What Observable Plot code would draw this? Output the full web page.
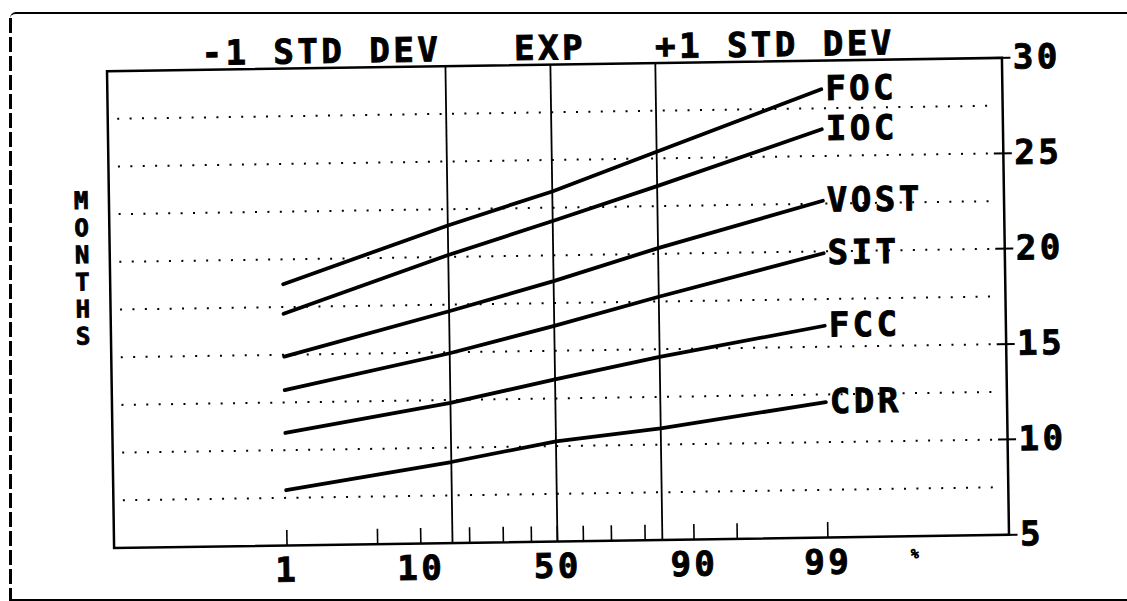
<!DOCTYPE html>
<html>
<head>
<meta charset="utf-8">
<script src="https://cdn.jsdelivr.net/npm/d3@7"></script>
<script src="https://cdn.jsdelivr.net/npm/@observablehq/plot@0.6"></script>
<style>
  html, body { margin: 0; padding: 0; background: #fff; }
  body { width: 1127px; height: 601px; position: relative; overflow: hidden; }
  #border {
    position: absolute; left: 10px; top: 12px; width: 1130px; height: 585px;
    border-top: 2px solid #000; border-bottom: 2px solid #000;
    border-top-left-radius: 6px; pointer-events: none;
  }
  #leftdash {
    position: absolute; left: 9px; top: 18px; width: 3px; height: 583px;
    background: repeating-linear-gradient(to bottom, #000 0 15px, transparent 15px 19px);
    pointer-events: none;
  }
  #chart { position: absolute; left: 0; top: 0; }
  #chart svg { transform: rotate(-0.85deg); transform-origin: 557.5px 302.5px; }
  #chart svg text { letter-spacing: 3.5px; stroke: #000; stroke-width: 0.9px; }
</style>
</head>
<body>
<div id="chart"></div>
<div id="border"></div>
<div id="leftdash"></div>
<script>
// ---- data (percentiles on a probability axis, months on y) ----
const percentiles = [1, 15.87, 50, 84.13, 99];
const seriesNames = ["FOC", "IOC", "VOST", "SIT", "FCC", "CDR"];
const FOC  = [18.7, 21.65, 23.35, 25.35, 28.5];
const IOC  = [17.15, 20.1, 21.8, 23.55, 26.4];
const VOST = [14.9, 17.15, 18.65, 20.3, 22.65];
const SIT  = [13.15, 14.95, 16.3, 17.75, 19.9];
const FCC  = [10.9, 12.35, 13.5, 14.6, 16.1];
const CDR  = [7.9, 9.25, 10.25, 10.85, 12.1];
const seriesValues = [FOC, IOC, VOST, SIT, FCC, CDR];

const xLabelTicks = [1, 10, 50, 90, 99];
const xMinorTicks = [1, 5, 10, 20, 30, 40, 50, 60, 70, 80, 90, 95, 99];
const yTicks = [5, 10, 15, 20, 25, 30];
const yGrid = [7.5, 10, 12.5, 15, 17.5, 20, 22.5, 25, 27.5];
const refLines = [15.87, 50, 84.13];
const refLabels = ["-1 STD DEV", "EXP", "+1 STD DEV"];

// ---- probability-axis transform ----
function probit(p) {
  const a = [-39.69683028665376, 220.9460984245205, -275.9285104469687, 138.3577518672690, -30.66479806614716, 2.506628277459239];
  const b = [-54.47609879822406, 161.5858368580409, -155.6989798598866, 66.80131188771972, -13.28068155288572];
  const c = [-0.007784894002430293, -0.3223964580411365, -2.400758277161838, -2.549732539343734, 4.374664141464968, 2.938163982698783];
  const d = [0.007784695709041462, 0.3224671290700398, 2.445134137142996, 3.754408661907416];
  const pl = 0.02425, ph = 1 - pl;
  let q, r;
  if (p < pl) {
    q = Math.sqrt(-2 * Math.log(p));
    return (((((c[0]*q+c[1])*q+c[2])*q+c[3])*q+c[4])*q+c[5]) / ((((d[0]*q+d[1])*q+d[2])*q+d[3])*q+1);
  } else if (p <= ph) {
    q = p - 0.5; r = q*q;
    return (((((a[0]*r+a[1])*r+a[2])*r+a[3])*r+a[4])*r+a[5])*q / (((((b[0]*r+b[1])*r+b[2])*r+b[3])*r+b[4])*r+1);
  } else {
    q = Math.sqrt(-2 * Math.log(1 - p));
    return -(((((c[0]*q+c[1])*q+c[2])*q+c[3])*q+c[4])*q+c[5]) / ((((d[0]*q+d[1])*q+d[2])*q+d[3])*q+1);
  }
}
const fx = p => { const z = probit(p / 100); return z + 0.025 * z * z * z; };

const rows = seriesNames.flatMap((name, i) =>
  percentiles.map((p, j) => ({name, p, v: seriesValues[i][j]})));

const labelFor = new Map(xLabelTicks.map(p => [fx(p), String(p)]));

const FS = 34;
const chart = Plot.plot({
  width: 1127,
  height: 601,
  marginLeft: 110,
  marginRight: 122,
  marginTop: 64,
  marginBottom: 60,
  x: {domain: [-4.33, 4.41]},
  y: {domain: [5, 30]},
  style: {fontFamily: "'DejaVu Sans Mono', monospace", fontWeight: "bold", fontSize: FS + "px", color: "#000", background: "transparent"},
  marks: [
    Plot.gridY(yGrid, {stroke: "#000", strokeOpacity: 1, strokeWidth: 2, strokeDasharray: "2,10.4", insetLeft: 10, insetRight: 8}),
    Plot.ruleX(refLines, {x: fx, stroke: "#000", strokeWidth: 1.8}),
    Plot.frame({stroke: "#000", strokeWidth: 2.5}),
    Plot.axisX(xMinorTicks.map(fx), {anchor: "bottom", tickSize: -15, tickFormat: () => "", label: null, strokeWidth: 1.6}),
    Plot.axisX(xLabelTicks.map(fx), {anchor: "bottom", tickSize: 0, tickPadding: 12, tickFormat: v => labelFor.get(v), label: null, fontSize: FS, fontWeight: "bold"}),
    Plot.axisY(yTicks, {anchor: "right", tickSize: 18, dx: -10, tickPadding: 3, label: null, fontSize: FS, fontWeight: "bold", strokeWidth: 2}),
    Plot.line(rows, {x: d => fx(d.p), y: "v", z: "name", stroke: "#000", strokeWidth: 3.8}),
    Plot.text(rows, Plot.selectLast({x: d => fx(d.p), y: "v", z: "name", text: "name", textAnchor: "start", dx: 4, fontSize: FS})),
    Plot.text([refLabels[0]], {x: () => fx(refLines[0]), frameAnchor: "top", text: d => d, textAnchor: "end", lineAnchor: "bottom", dx: -4, dy: -5, fontSize: FS}),
    Plot.text([refLabels[1]], {x: () => fx(refLines[1]), frameAnchor: "top", text: d => d, textAnchor: "middle", lineAnchor: "bottom", dx: 0, dy: -5, fontSize: FS}),
    Plot.text([refLabels[2]], {x: () => fx(refLines[2]), frameAnchor: "top", text: d => d, textAnchor: "start", lineAnchor: "bottom", dx: 0, dy: -5, fontSize: FS}),
    Plot.text(["M\nO\nN\nT\nH\nS"], {frameAnchor: "left", text: d => d, dx: -26, dy: -42, lineHeight: 1.13, fontSize: 24, textAnchor: "middle"}),
    Plot.text(["%"], {frameAnchor: "bottom-right", text: d => d, dx: -87, dy: 22, fontSize: 13, fontWeight: "normal"})
  ]
});
document.getElementById("chart").appendChild(chart);
</script>
</body>
</html>
